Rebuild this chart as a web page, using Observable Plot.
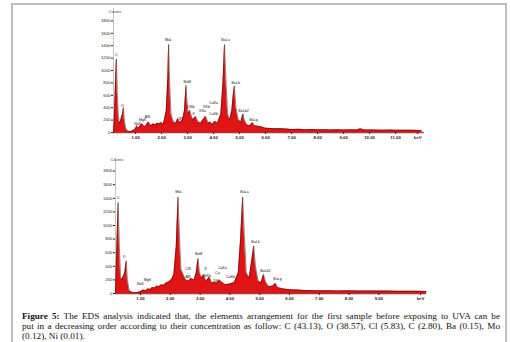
<!DOCTYPE html>
<html><head><meta charset="utf-8">
<script src="https://cdn.jsdelivr.net/npm/d3@7"></script>
<script src="https://cdn.jsdelivr.net/npm/@observablehq/plot@0.6"></script>
<style>
html,body{margin:0;padding:0;background:#fff;width:510px;height:342px;overflow:hidden;}
#page{position:absolute;left:11px;top:3px;width:492px;height:400px;border:2px solid #bdbdbd;border-bottom:none;}
#c1{position:absolute;left:88px;top:5px;}
#c2{position:absolute;left:90px;top:155px;}
#cap{position:absolute;left:22px;top:311px;width:478px;font-family:"Liberation Serif",serif;font-size:9.2px;line-height:10px;color:#111;}
#cap div{text-align:justify;text-align-last:justify;white-space:normal;}
#cap div.last{text-align-last:left;}
svg text{font-family:"Liberation Sans",Arial,sans-serif;}
</style></head>
<body>
<div id="page"></div>
<div id="c1"></div>
<div id="c2"></div>
<div id="cap">
<div><b>Figure 5:</b> The EDS analysis indicated that, the elements arrangement for the first sample before exposing to UVA can be</div>
<div>put in a decreasing order according to their concentration as follow: C (43.13), O (38.57), Cl (5.83), C (2.80), Ba (0.15), Mo</div>
<div class="last">(0.12), Ni (0.01).</div>
</div>
<script>
// ---- top spectrum (keV, counts) ----
const spec1E = [0.15,0.18,0.22,0.26,0.30,0.34,0.38,0.42,0.46,0.50,0.53,0.57,0.62,0.70,0.80,0.90,1.00,1.04,1.10,1.18,1.25,1.35,1.42,1.48,1.60,1.68,1.75,1.82,1.90,2.00,2.06,2.10,2.18,2.24,2.27,2.31,2.36,2.45,2.55,2.62,2.70,2.80,2.88,2.94,2.98,3.02,3.08,3.12,3.20,3.31,3.40,3.50,3.59,3.69,3.80,3.88,3.95,4.05,4.15,4.28,4.36,4.42,4.47,4.54,4.62,4.70,4.76,4.80,4.86,4.95,5.05,5.13,5.18,5.28,5.40,5.50,5.56,5.70,5.85,6.00,6.20,6.40,6.60,6.80,7.00,7.30,7.50,7.80,8.00,8.30,8.50,8.80,9.00,9.30,9.50,9.65,9.80,10.10,10.50,10.80,11.00,11.40,11.70,12.00];
const spec1C = [0,200,700,1190,600,250,150,180,250,300,400,200,60,20,15,30,60,110,70,110,140,90,120,170,110,140,120,150,140,160,130,190,350,900,1420,800,300,170,150,220,160,200,350,760,500,300,360,300,200,260,170,150,200,260,150,170,130,180,150,300,800,1420,900,300,200,350,620,750,400,200,170,300,200,120,110,160,110,100,90,70,65,60,62,55,50,52,45,48,44,46,42,45,40,43,40,60,40,42,38,40,36,38,35,30];
// ---- bottom spectrum (keV, counts) ----
const spec2E = [0.16,0.18,0.22,0.25,0.29,0.33,0.37,0.42,0.47,0.52,0.56,0.62,0.75,0.90,1.00,1.10,1.18,1.25,1.32,1.40,1.48,1.55,1.62,1.70,1.78,1.85,1.95,2.05,2.12,2.20,2.26,2.31,2.36,2.45,2.52,2.60,2.70,2.80,2.87,2.93,2.98,3.05,3.12,3.20,3.31,3.40,3.48,3.55,3.65,3.72,3.85,4.00,4.15,4.28,4.36,4.43,4.48,4.55,4.65,4.74,4.80,4.86,4.95,5.05,5.13,5.20,5.30,5.45,5.53,5.60,5.75,6.00,6.30,6.50,6.80,7.00,7.30,7.60,8.00,8.30,8.60,9.00,9.30,9.60,10.00,10.30,10.60];
const spec2C = [0,300,900,1340,700,250,200,250,300,480,200,40,10,15,30,50,40,70,60,90,80,110,100,130,120,150,170,210,280,700,1420,800,350,260,200,180,220,200,300,515,300,230,280,180,240,150,170,150,200,170,130,140,160,300,800,1420,900,300,230,500,700,400,180,160,280,170,100,110,150,90,70,55,50,45,42,40,42,38,40,36,38,35,36,33,34,32,30];
// ---- peak labels ----
const lab1 = ["C","O","NaK","MgK","AlK","MoL","ClK","BaM","ClKb","K","KKa","KKb","CaKa","CaKb","BaLa","BaLb","BaLb2","BaLg"];
const lab1E = [0.26,0.49,1.08,1.27,1.46,2.27,2.69,2.98,3.12,3.23,3.58,3.73,4.0,4.0,4.46,4.85,5.15,5.54];
const lab1C = [1260,435,145,210,258,1500,226,820,420,306,355,420,484,306,1500,800,355,210];
const lab2 = ["C","O","NaK","MgK","MoL","ClK","AlK","BaM","K","KKb","TiK","Ca","CaKa","CaKb","BaLa","BaLb","BaLb2","BaLg"];
const lab2E = [0.25,0.45,1.0,1.23,2.28,2.6,2.6,2.95,3.19,3.25,3.52,3.58,3.75,4.02,4.49,4.86,5.19,5.6];
const lab2C = [1410,540,147,206,1500,368,250,580,368,265,191,309,382,250,1500,765,338,220];
// ---- axes ----
const x1Ticks = [1,2,3,4,5,6,7,8,9,10,11,11.85];
const x1Labels = ["1.00","2.00","3.00","4.00","5.00","6.00","7.00","8.00","9.00","10.00","11.00","keV"];
const x2Ticks = [1,2,3,4,5,6,7,8,9,10.4];
const x2Labels = ["1.00","2.00","3.00","4.00","5.00","6.00","7.00","8.00","9.00","keV"];
const yTicks = [0,200,400,600,800,1000,1200,1400,1600,1800];
const yLabels = ["0","200","400","600","800","1000","1200","1400","1600","1800"];
const yTitle = "Counts";

function chart(E, C, labs, labE, labC, xT, xL, opts) {
  const spec = E.map((e, i) => ({e, c: C[i]}));
  const lbl = labs.map((t, i) => ({t, e: labE[i], c: labC[i]}));
  return Plot.plot({
    width: opts.width, height: opts.height,
    marginLeft: opts.ml, marginRight: opts.mr, marginTop: opts.mt, marginBottom: opts.mb,
    x: {domain: opts.xd},
    y: {domain: [0, 2000]},
    style: {fontSize: "4.3px", color: "#222", background: "transparent"},
    marks: [
      Plot.ruleX([opts.xd[0]], {stroke: "#888", strokeWidth: 0.5}),
      Plot.ruleY([0], {stroke: "#f08a8a", strokeWidth: 2}),
      Plot.areaY(spec, {x: "e", y: "c", fill: "#e01414"}),
      Plot.lineY(spec, {x: "e", y: "c", stroke: "#3a0606", strokeWidth: 0.5}),
      Plot.ruleY([0], {stroke: "#5a1010", strokeWidth: 0.6}),
      Plot.text(lbl, {x: "e", y: "c", text: "t", fontSize: 3.6, fill: "#111"}),
      Plot.axisX({ticks: xT, tickFormat: (d) => xL[xT.indexOf(d)], tickSize: 2, tickPadding: 1, label: null, fontWeight: "bold"}),
      Plot.axisY({ticks: yTicks, tickFormat: (d) => yLabels[yTicks.indexOf(d)], tickSize: 2, tickPadding: 1, label: null}),
      Plot.text([yTitle], {frameAnchor: "top-left", dx: -5, dy: opts.tdy, fontSize: 4, fill: "#444"})
    ]
  });
}

document.getElementById("c1").append(chart(spec1E, spec1C, lab1, lab1E, lab1C, x1Ticks, x1Labels,
  {width: 345, height: 140, ml: 25, mr: 9.3, mt: 3, mb: 13, xd: [0.15, 12.1], tdy: 2}));
document.getElementById("c2").append(chart(spec2E, spec2C, lab2, lab2E, lab2C, x2Ticks, x2Labels,
  {width: 345, height: 150, ml: 25, mr: 9, mt: 2, mb: 12, xd: [0.16, 10.6], tdy: 1}));
</script>
</body></html>
